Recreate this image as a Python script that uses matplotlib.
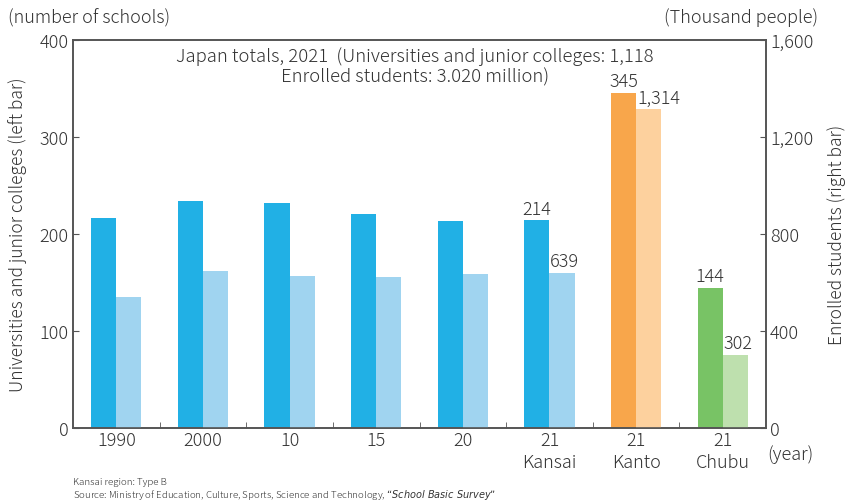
import matplotlib.pyplot as plt
import numpy as np

plt.rcParams['font.family'] = ['Noto Sans CJK JP', 'DejaVu Sans']
plt.rcParams['font.weight'] = 'light'
plt.rcParams['axes.labelweight'] = 'light'

categories = ["1990", "2000", "10", "15", "20", "21\nKansai", "21\nKanto", "21\nChubu"]
schools = [216, 234, 232, 221, 213, 214, 345, 144]          # left bar
students = [540, 647, 627, 623, 635, 639, 1314, 302]       # right bar, thousand people
dark_colors = ["#21b0e5"] * 6 + ["#f8a64b", "#78c365"]
light_colors = ["#a0d4f0"] * 6 + ["#fdd19e", "#bee0ae"]

txt = "#333333"
spine_c = "#555555"

fig = plt.figure(figsize=(8.46, 5.02), dpi=100)
ax = fig.add_axes([73 / 846, 73 / 502, 693 / 846, 388 / 502])
ax2 = ax.twinx()

x = np.arange(len(categories))
w = 0.29
ax.bar(x - w / 2, schools, w, color=dark_colors, zorder=2)
ax2.bar(x + w / 2, students, w, color=light_colors, zorder=2)

ax.set_xlim(-0.5, len(categories) - 0.5)
ax.set_ylim(0, 400)
ax2.set_ylim(0, 1600)
ax.set_yticks([0, 100, 200, 300, 400])
ax2.set_yticks([0, 400, 800, 1200, 1600])
ax2.set_yticklabels(["0", "400", "800", "1,200", "1,600"])

ax.set_xticks(x)
ax.set_xticklabels(categories, fontsize=13, color=txt, linespacing=1.3)
ax.set_xticks(np.arange(0.5, len(categories) - 1, 1), minor=True)
ax.tick_params(axis="x", which="major", length=0, pad=2)
ax.tick_params(axis="x", which="minor", length=4, direction="in", color=spine_c)
ax.tick_params(axis="y", length=4, direction="in", labelsize=13, labelcolor=txt, color=spine_c, pad=3)
ax2.tick_params(axis="y", length=4, direction="in", labelsize=13, labelcolor=txt, color=spine_c, pad=3)

for a in (ax, ax2):
    for s in a.spines.values():
        s.set_color(spine_c)
        s.set_linewidth(1.2)

ax.set_ylabel("Universities and junior colleges (left bar)", fontsize=12.5, color=txt)
ax2.set_ylabel("Enrolled students (right bar)", fontsize=12.5, color=txt)
ax.yaxis.set_label_coords(-46 / 693, 0.5)
ax2.yaxis.set_label_coords(1 + 61 / 693, 0.5)

# value labels on the 2021 bars
for i in (5, 6, 7):
    ax.text(x[i] - w / 2, schools[i] + 3, str(schools[i]), ha="center", va="bottom", fontsize=13, color=txt)
    ax2.text(x[i] + 0.01, students[i] + 12, f"{students[i]:,}", ha="left", va="bottom", fontsize=13, color=txt)

fig.text(415 / 846, 1 - 57 / 502, "Japan totals, 2021  (Universities and junior colleges: 1,118",
         ha="center", va="center", fontsize=13.3, color=txt)
fig.text(415 / 846, 1 - 77 / 502, "Enrolled students: 3.020 million)",
         ha="center", va="center", fontsize=13.3, color=txt)

fig.text(8 / 846, 1 - 18 / 502, "(number of schools)", ha="left", va="center", fontsize=13, color=txt)
fig.text(818 / 846, 1 - 18 / 502, "(Thousand people)", ha="right", va="center", fontsize=13, color=txt)
fig.text(790 / 846, 1 - 455 / 502, "(year)", ha="center", va="center", fontsize=13, color=txt)

fig.text(73 / 846, 1 - 483 / 502, "Kansai region: Type B", ha="left", va="center", fontsize=7, color=txt)
fig.text(73 / 846, 1 - 495 / 502,
         "Source: Ministry of Education, Culture, Sports, Science and Technology, $\\it{\u201cSchool\ Basic\ Survey\u201d}$",
         ha="left", va="center", fontsize=7, color=txt)

fig.savefig("out.png", dpi=100)
